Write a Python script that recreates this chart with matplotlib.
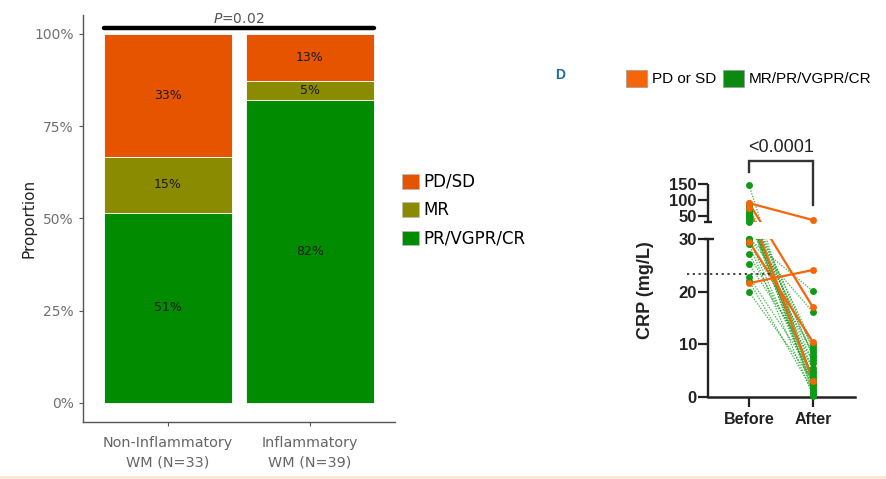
import numpy as np
import matplotlib
matplotlib.use("Agg")
import matplotlib.pyplot as plt
from matplotlib.patches import Patch
from matplotlib.lines import Line2D

# ---- left panel data: response counts per WM group ----
groups = ["Non-Inflammatory\nWM (N=33)", "Inflammatory\nWM (N=39)"]
responses = ["PR/VGPR/CR", "MR", "PD/SD"]          # stacking order, bottom to top
counts_non_inflam = [17, 5, 11]
counts_inflam = [32, 2, 5]
labels_non_inflam = ["51%", "15%", "33%"]
labels_inflam = ["82%", "5%", "13%"]
p_value_left = "0.02"

# ---- right panel data: CRP (mg/L) before/after treatment ----
green_before = [145, 82, 78, 75, 72, 68, 64, 60, 55, 50, 46, 42, 38, 34, 31,
                30, 30, 30, 29.5, 29, 27.1, 25.2, 22.8, 22.0, 19.9]
green_after = [2.5, 9, 3.5, 1, 7.5, 2, 10, 0.5, 5, 8, 3, 1.5, 6.5, 4, 9.5,
               20.1, 16.1, 2.5, 8.5, 0.2, 5.5, 7, 4.5, 1.2, 3.2]
orange_before = [89, 89, 75, 29.5, 21.6]
orange_after = [36, 17, 3, 10.4, 24.1]
crp_threshold = 23.3
crp_ticks = [0, 10, 20, 30, 50, 100, 150]
timepoints = ["Before", "After"]
p_value_right = "<0.0001"

col_left = {"PD/SD": "#E65400", "MR": "#8B8B00", "PR/VGPR/CR": "#008B00"}
orange = "#F7650B"
green = "#0F9A18"


def crp_to_y(v):
    # broken axis: 0-30 linear (5.27 px/unit), gap, then 30-150 compressed (0.32 px/unit)
    v = np.asarray(v, dtype=float)
    return np.where(v <= 30, v * 5.27, 175 + (v - 30) * 0.32)


fig = plt.figure(figsize=(8.87, 4.79), dpi=100)

# ================= left panel =================
ax = fig.add_axes([83/887, 1-422/479, 312/887, 407/479])
x = np.arange(len(groups))
for xi, counts, labs in [(0, counts_non_inflam, labels_non_inflam),
                         (1, counts_inflam, labels_inflam)]:
    pct = np.array(counts) / sum(counts) * 100
    bottom = 0
    for resp, h, lab in zip(responses, pct, labs):
        ax.bar(xi, h, bottom=bottom, width=0.9, color=col_left[resp],
               edgecolor="white", linewidth=0.6)
        ax.text(xi, bottom + h/2, lab, ha="center", va="center",
                fontsize=9, color="#1a1a1a")
        bottom += h

ax.set_xlim(-0.6, 1.6)
ax.set_ylim(-5.15, 105.1)
ax.set_yticks([0, 25, 50, 75, 100])
ax.set_yticklabels(["0%", "25%", "50%", "75%", "100%"])
ax.set_xticks(x)
ax.set_xticklabels(groups, fontsize=10.4, color="#666666", linespacing=1.55)
ax.tick_params(axis="y", labelsize=10, labelcolor="#707070", length=3,
               color="#555555")
ax.tick_params(axis="x", length=3, color="#555555", pad=7)
for s in ["top", "right"]:
    ax.spines[s].set_visible(False)
for s in ["left", "bottom"]:
    ax.spines[s].set_color("#555555")
    ax.spines[s].set_linewidth(1.0)
ax.set_ylabel("Proportion", fontsize=11, color="#222222")
ax.yaxis.set_label_coords(-0.15, 0.5)

ax.plot([-0.45, 1.45], [101.6, 101.6], color="black", lw=3.2,
        solid_capstyle="round", clip_on=False)
ax.text(0.5, 104.1, r"$P$=" + p_value_left, ha="center", va="center",
        fontsize=10, color="#555555")

ax.legend(handles=[Patch(facecolor=col_left[r], edgecolor="#bbbbbb", lw=0.5)
                   for r in ["PD/SD", "MR", "PR/VGPR/CR"]],
          labels=["PD/SD", "MR", "PR/VGPR/CR"],
          loc="upper left", bbox_to_anchor=(402/887, 1-173/479),
          bbox_transform=fig.transFigure, frameon=False, fontsize=12,
          handlelength=1.0, handleheight=1.0, handletextpad=0.3,
          labelspacing=0.62, borderpad=0, borderaxespad=0)

# ================= right panel =================
rfont = "Liberation Sans"
ax2 = fig.add_axes([708/887, 1-397/479, 147/887, 213.4/479])
ax2.set_xlim(-0.641, 1.656)
ax2.set_ylim(0, 213.4)

for b, a in zip(green_before, green_after):
    ax2.plot([0, 1], crp_to_y([b, a]), color=green, lw=1.0, alpha=0.7,
             ls=(0, (1, 1)), zorder=2)
for b, a in zip(orange_before, orange_after):
    ax2.plot([0, 1], crp_to_y([b, a]), color=orange, lw=1.6, zorder=2.2)
ax2.plot(np.zeros(len(green_before)), crp_to_y(green_before), "o", color=green,
         ms=5, mew=0, zorder=3, clip_on=False)
ax2.plot(np.ones(len(green_after)), crp_to_y(green_after), "o", color=green,
         ms=5, mew=0, zorder=3, clip_on=False)
ax2.plot(np.zeros(len(orange_before)), crp_to_y(orange_before), "o",
         color=orange, ms=5, mew=0, zorder=3.2, clip_on=False)
ax2.plot(np.ones(len(orange_after)), crp_to_y(orange_after), "o",
         color=orange, ms=5, mew=0, zorder=3.2, clip_on=False)

# axis break: hide the gap between the two segments
ax2.axhspan(crp_to_y(30), 175, color="white", zorder=2.6, lw=0)

# threshold dotted line
thr = crp_to_y(crp_threshold)
ax2.plot([-0.97, 0.375], [thr, thr], color="#333333", lw=1.3,
         ls=(0, (1.2, 2)), clip_on=False, zorder=2.7)

# manual left spine, two segments with caps
sx = -0.641
spine_kw = dict(color="#222222", lw=1.7, clip_on=False, zorder=4,
                solid_capstyle="butt")
ax2.plot([sx, sx], [0, crp_to_y(30)], **spine_kw)
ax2.plot([sx, sx], [175, crp_to_y(150)], **spine_kw)
ax2.plot([sx - 0.07, sx + 0.1], [crp_to_y(30)] * 2, **spine_kw)
ax2.plot([sx - 0.07, sx + 0.07], [175, 175], **spine_kw)
ax2.spines["left"].set_visible(False)
for s in ["top", "right"]:
    ax2.spines[s].set_visible(False)
ax2.spines["bottom"].set_linewidth(1.8)
ax2.spines["bottom"].set_color("#222222")

ax2.set_yticks(crp_to_y(crp_ticks))
ax2.set_yticklabels([str(t) for t in crp_ticks], fontfamily=rfont,
                    fontweight="bold", fontsize=12)
ax2.set_xticks([0, 1])
ax2.set_xticklabels(timepoints, fontfamily=rfont, fontweight="bold",
                    fontsize=11.5)
ax2.tick_params(axis="y", length=7, width=1.6, pad=1, color="#222222",
                labelcolor="#222222")
ax2.tick_params(axis="x", length=7, width=1.6, pad=4, color="#222222",
                labelcolor="#222222")
ax2.set_ylabel("CRP (mg/L)", fontfamily=rfont, fontweight="bold",
               fontsize=13, color="#222222")
ax2.yaxis.set_label_coords(-0.37, 0.5)

# significance bracket
ax2.plot([0, 0, 1, 1], [225, 236, 236, 192], color="#333333", lw=1.7,
         clip_on=False, solid_joinstyle="miter")
ax2.text(0.5, 250, p_value_right, ha="center", va="center", fontfamily=rfont,
         fontsize=13, color="#222222", clip_on=False)

fig.legend(handles=[Patch(facecolor=orange, edgecolor="#999999", lw=0.5),
                    Patch(facecolor="#0B8A12", edgecolor="#999999", lw=0.5)],
           labels=["PD or SD", "MR/PR/VGPR/CR"], ncol=2,
           loc="upper left", bbox_to_anchor=(626/887, 1-70/479),
           frameon=False, prop={"family": rfont, "size": 11},
           handlelength=1.35, handleheight=1.3, handletextpad=0.35,
           columnspacing=0.45, borderpad=0, borderaxespad=0)

fig.text(560/887, 1-75/479, "D", fontfamily=rfont, fontweight="bold",
         fontsize=10, color="#1F6BA5", ha="center", va="center")

fig.add_artist(Line2D([0, 1], [1-477/479, 1-477/479], transform=fig.transFigure,
                      color="#FBE6D4", lw=2))

fig.savefig("out.png", dpi=100)
